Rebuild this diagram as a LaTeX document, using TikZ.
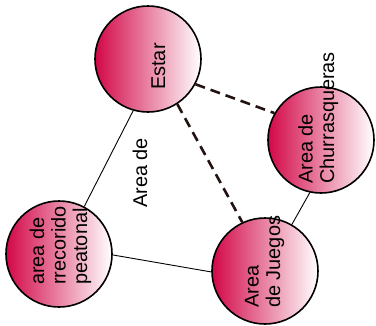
\documentclass[tikz,border=0pt]{standalone}
\usepackage{fontspec}
\setmainfont{Liberation Sans}
\definecolor{rose}{RGB}{210,8,72}
\definecolor{dk}{RGB}{35,18,18}
\begin{document}
\begin{tikzpicture}[x=1bp,y=-1bp,
  zone/.style={circle, draw=black, line width=1.6bp, minimum size=106bp, inner sep=0pt, left color=rose, right color=white},
  lbl/.style={rotate=90, anchor=base west, inner sep=0pt, align=left, font=\fontsize{20}{21.5}\selectfont},
  link/.style={line width=0.9bp, draw=black},
  dlink/.style={line width=2.6bp, dash pattern=on 10bp off 6bp, draw=dk}]
\useasboundingbox (0,0) rectangle (376,326);
\node[zone] (e) at (148,59) {};
\node[zone] (c) at (321,140) {};
\node[zone] (r) at (59,254) {};
\node[zone] (j) at (265,271) {};
\draw[link] (e.254) -- (r.62);
\draw[link] (r.-1) -- (j.181);
\draw[link] (c.258) -- (j.60);
\draw[dlink] (e.-28) -- (c.150);
\draw[dlink] (e.-57) -- (j.115);
\node[lbl] (et) at (165,90) {Estar};
\node[lbl] (ct) at (334,184) {Area de\\Churrasqueras};
\node[lbl] (rt) at (87,285) {area de\\rrecorido\\peatonal};
\node[lbl] (jt) at (280,308) {Area\\de Juegos};
\node[lbl] (ft) at (147,208) {Area de};
\end{tikzpicture}
\end{document}
